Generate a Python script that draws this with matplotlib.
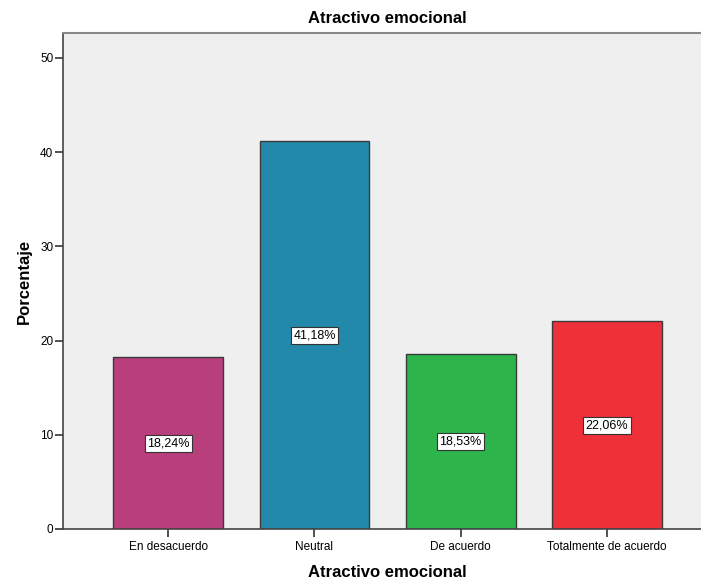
import matplotlib
matplotlib.use("Agg")
import matplotlib.pyplot as plt

categorias = ["En desacuerdo", "Neutral", "De acuerdo", "Totalmente de acuerdo"]
porcentajes = [18.24, 41.18, 18.53, 22.06]
etiquetas = ["18,24%", "41,18%", "18,53%", "22,06%"]
colores = ["#B83E7C", "#2389AB", "#2DB44B", "#EE3039"]

plt.rcParams["font.family"] = ["Liberation Sans", "DejaVu Sans"]

fig = plt.figure(figsize=(7.01, 5.84), dpi=100)
ax = fig.add_axes([0.0899, 0.0942, 0.926, 0.8493])
ax.set_facecolor("#EFEFEF")

x = range(len(categorias))
ax.bar(x, porcentajes, width=0.75, color=colores, edgecolor="#3A3A3A", linewidth=1)

for i, (v, t) in enumerate(zip(porcentajes, etiquetas)):
    ax.text(i, v / 2, t, ha="center", va="center", fontsize=9,
            bbox=dict(boxstyle="square,pad=0.2", facecolor="white", edgecolor="#333333", linewidth=0.8))

ax.set_xlim(-0.72, 3.72)
ax.set_ylim(0, 52.65)
ax.set_xticks(list(x))
ax.set_xticklabels(categorias, fontsize=8.5)
ax.set_yticks([0, 10, 20, 30, 40, 50])
ax.tick_params(axis="y", labelsize=8.5, length=6, width=1.2, color="#333333", pad=1)
ax.tick_params(axis="x", length=6, width=1.2, color="#333333", pad=3)

for s in ["left", "bottom"]:
    ax.spines[s].set_color("#444444")
    ax.spines[s].set_linewidth(1.2)
ax.spines["top"].set_color("#888888")
ax.spines["top"].set_linewidth(1.5)
ax.spines["right"].set_visible(False)

ax.set_title("Atractivo emocional", fontsize=12, fontweight="bold", pad=7)
ax.set_xlabel("Atractivo emocional", fontsize=12, fontweight="bold", labelpad=8)
ax.set_ylabel("Porcentaje", fontsize=12, fontweight="bold", labelpad=6)

fig.savefig("out.png", dpi=100)
